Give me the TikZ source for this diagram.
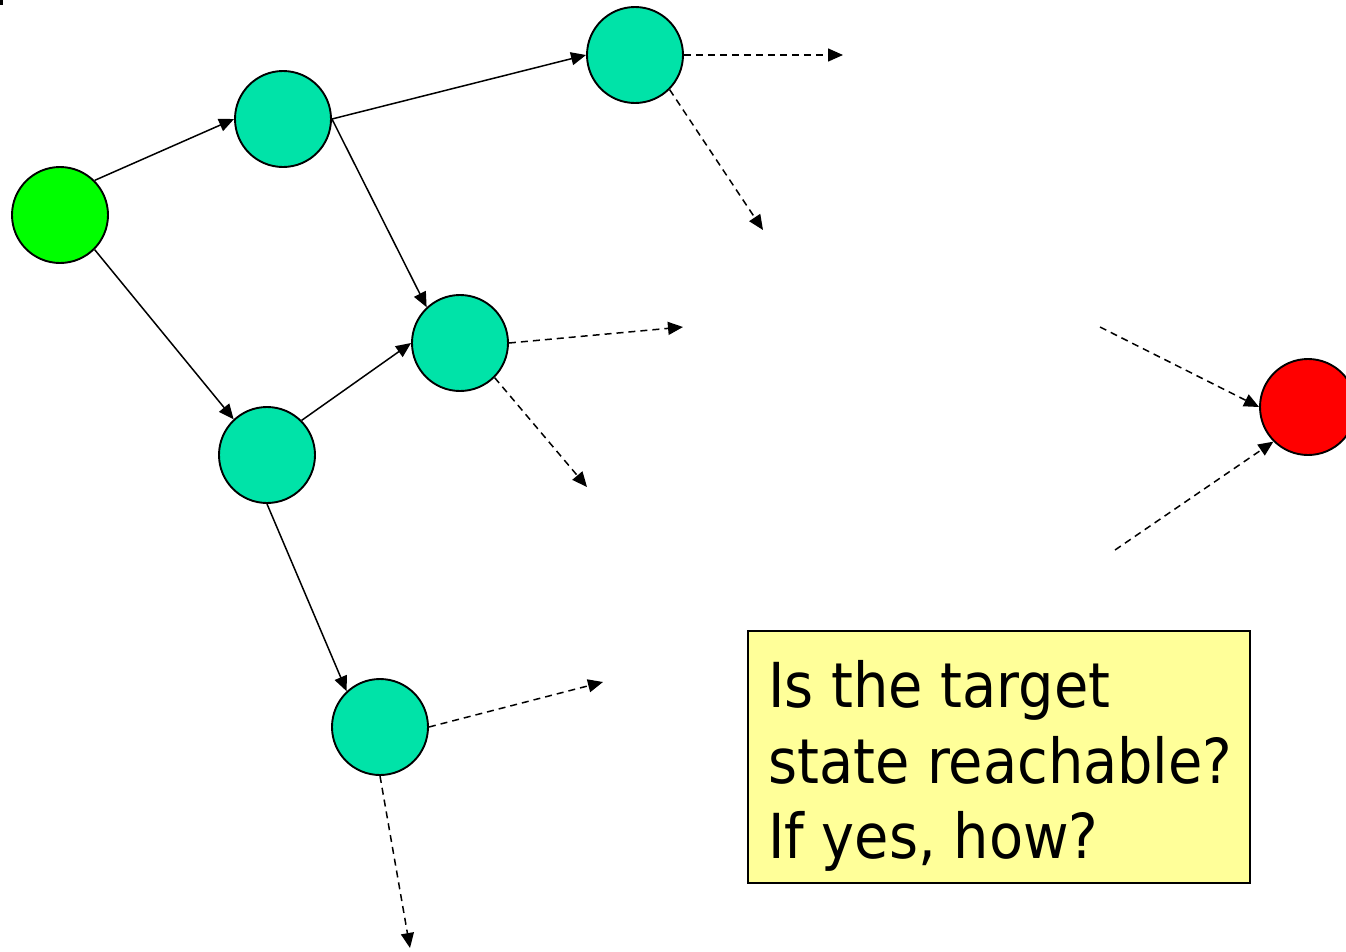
\documentclass[tikz,border=0pt]{standalone}
\usepackage{fontspec}
\setmainfont{DejaVu Sans Condensed}
\usetikzlibrary{arrows.meta}
\definecolor{startgreen}{HTML}{00FF00}
\definecolor{stateteal}{HTML}{00E3A8}
\definecolor{targetred}{HTML}{FF0000}
\definecolor{noteyellow}{HTML}{FFFF99}
\begin{document}
\begin{tikzpicture}[x=1pt,y=-1pt,
  state/.style={circle,draw=black,line width=1.9pt,minimum size=96pt,inner sep=0pt,fill=stateteal},
  edge/.style={line width=1.5pt,-{Triangle[length=15pt,width=13pt]}},
  dedge/.style={edge,dash pattern=on 7pt off 5pt},
  line/.style={font=\fontsize{62}{75}\selectfont,anchor=base west,inner sep=0pt}]
\useasboundingbox (0,0) rectangle (1346,951);
\fill[black] (0,0) rectangle (3,5);
\node[state,fill=startgreen] (s) at (60,215) {};
\node[state] (a) at (283,119) {};
\node[state] (b) at (635,55) {};
\node[state] (c) at (460,343) {};
\node[state] (d) at (267,455) {};
\node[state] (e) at (380,727) {};
\node[state,fill=targetred] (t) at (1308,407) {};
% solid edges
\draw[edge] (s.45) -- (a.west);
\draw[edge] (s.-45) -- (d.133);
\draw[edge] (a.east) -- (b.west);
\draw[edge] (a.east) -- (c.133);
\draw[edge] (d.45) -- (c.west);
\draw[edge] (d.south) -- (e.133);
% dashed edges
\coordinate (b1) at (843,55);
\coordinate (b2) at (763,230);
\coordinate (c1) at (683,327);
\coordinate (c2) at (587,487);
\coordinate (e1) at (603,682);
\coordinate (e2) at (410,948);
\coordinate (t1) at (1100,327);
\coordinate (t2) at (1115,550);
\draw[dedge] (b.east) -- (b1);
\draw[dedge] (b.-45) -- (b2);
\draw[dedge] (c.east) -- (c1);
\draw[dedge] (c.-45) -- (c2);
\draw[dedge] (e.east) -- (e1);
\draw[dedge] (e.south) -- (e2);
\draw[dedge] (t1) -- (t.west);
\draw[dedge] (t2) -- (t.-135);
% question box
\node[draw=black,line width=1.6pt,fill=noteyellow,minimum width=502pt,minimum height=252pt,inner sep=0pt] (q) at (999,757) {};
\node[line] (q1) at (768,707) {Is the target};
\node[line] (q2) at (768,783) {state reachable?};
\node[line] (q3) at (768,858) {If yes, how?};
\end{tikzpicture}
\end{document}
